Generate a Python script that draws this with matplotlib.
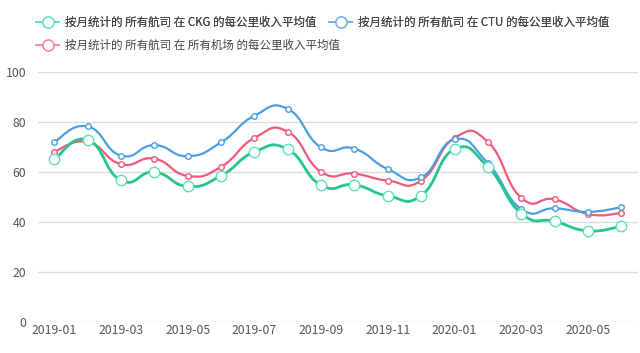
import matplotlib.pyplot as plt
import numpy as np
from matplotlib.lines import Line2D
from matplotlib.path import Path
from matplotlib.patches import PathPatch

plt.rcParams['font.family'] = ['Noto Sans CJK SC', 'DejaVu Sans']

months = ['2019-01', '2019-02', '2019-03', '2019-04', '2019-05', '2019-06',
          '2019-07', '2019-08', '2019-09', '2019-10', '2019-11', '2019-12',
          '2020-01', '2020-02', '2020-03', '2020-04', '2020-05', '2020-06']
ckg = [65.0, 72.8, 56.6, 59.9, 54.2, 58.4, 68.0, 69.0, 54.6,
       54.8, 50.4, 50.5, 69.1, 62.0, 43.3, 40.2, 36.4, 38.2]
ctu = [72.0, 78.2, 66.5, 70.7, 66.3, 71.8, 82.5, 85.2, 69.8,
       69.3, 61.1, 57.8, 73.0, 63.4, 45.1, 45.4, 44.0, 45.8]
all_airports = [68.1, 72.0, 63.1, 65.3, 58.4, 62.0, 73.6, 76.1, 60.0,
                59.3, 56.5, 56.5, 73.6, 72.0, 49.6, 49.0, 43.1, 43.5]

labels = ['按月统计的 所有航司 在 CKG 的每公里收入平均值',
          '按月统计的 所有航司 在 CTU 的每公里收入平均值',
          '按月统计的 所有航司 在 所有机场 的每公里收入平均值']


def smooth_path(xs, ys, smooth=0.5):
    """Bezier path through the points, echarts-style smoothing."""
    pts = np.column_stack([xs, ys]).astype(float)
    n = len(pts)
    verts = [pts[0]]
    codes = [Path.MOVETO]
    for i in range(n - 1):
        p0 = pts[max(i - 1, 0)]
        p1 = pts[i]
        p2 = pts[i + 1]
        p3 = pts[min(i + 2, n - 1)]
        c1 = p1 + (p2 - p0) * smooth / 2
        c2 = p2 - (p3 - p1) * smooth / 2
        verts += [c1, c2, p2]
        codes += [Path.CURVE4] * 3
    return Path(verts, codes)


fig = plt.figure(figsize=(6.4, 3.53), dpi=100)
ax = fig.add_axes([0.0586, 0.0887, 0.9384, 0.7073])

x = np.arange(len(months))
series = [
    (ckg, '#26c48f', '#5ee0c0', 7.5, 2.0, 3),
    (all_airports, '#ee5a78', '#ee5a78', 4, 1.6, 2),
    (ctu, '#4a9fe0', '#4a9fe0', 4, 1.6, 2),
]
for vals, col, mcol, ms, lw, z in series:
    ax.add_patch(PathPatch(smooth_path(x, vals), fill=False, edgecolor=col,
                           lw=lw, zorder=z, capstyle='round'))
    ax.plot(x, vals, ls='none', marker='o', ms=ms, mfc='white', mec=mcol,
            mew=1.0, zorder=z + 3)

ax.set_xlim(-0.5, len(months) - 0.5)
ax.set_ylim(0, 100)
ax.set_yticks(range(0, 101, 20))
ax.set_xticks(x[::2])
ax.set_xticklabels(months[::2])
ax.tick_params(axis='both', length=0, labelsize=8.8, colors='#555555')
ax.tick_params(axis='x', pad=2)
ax.tick_params(axis='y', pad=8)
ax.grid(axis='y', color='#dcdcdc', lw=1)
ax.set_axisbelow(True)
for s in ax.spines.values():
    s.set_visible(False)

handles = [
    Line2D([], [], color='#5ee0c0', lw=1.2, marker='o', ms=8, mfc='white', mec='#5ee0c0'),
    Line2D([], [], color='#6fb0e6', lw=1.2, marker='o', ms=8, mfc='white', mec='#6fb0e6'),
    Line2D([], [], color='#f07890', lw=1.2, marker='o', ms=8, mfc='white', mec='#f07890'),
]
leg_font = {'size': 8.3, 'weight': 'light'}
leg1 = fig.legend(handles[:2], labels[:2], loc='upper left', ncol=2,
                  bbox_to_anchor=(0.04, 0.984), frameon=False, prop=leg_font,
                  handlelength=2.0, handletextpad=0.5, columnspacing=1.1,
                  labelcolor='#444444')
fig.legend(handles[2:], labels[2:], loc='upper left',
           bbox_to_anchor=(0.04, 0.919), frameon=False, prop=leg_font,
           handlelength=2.0, handletextpad=0.5, labelcolor='#444444')
fig.add_artist(leg1)

fig.savefig('out.png', dpi=100)
